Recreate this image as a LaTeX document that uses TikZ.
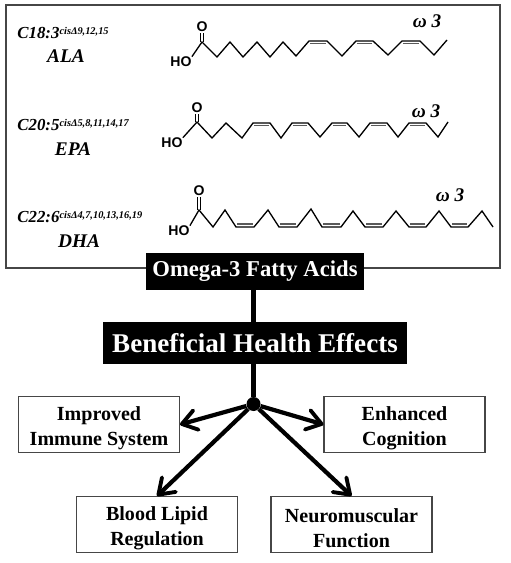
\documentclass[tikz,border=0pt]{standalone}
\usepackage{fontspec}
\setmainfont{Liberation Serif}
\setsansfont{Liberation Sans}
\usetikzlibrary{arrows.meta}
\definecolor{framegray}{RGB}{70,70,70}
\definecolor{bondgray}{RGB}{90,90,90}
\newcommand{\fattylabel}[2]{#1\raisebox{0.6ex}{\fontsize{5.9}{7}\selectfont cisΔ#2}}
\newcommand{\effectlines}[2]{\rule{0pt}{12pt}#1\\#2}

\begin{document}
\begin{tikzpicture}[
  x=0.02cm, y=-0.02cm,
  titlebox/.style={fill=black, text=white, font=\bfseries, inner sep=0pt, align=center},
  effect/.style={draw=framegray, line width=0.6pt, fill=white, minimum width=3.22cm, minimum height=1.12cm, inner sep=0pt, font=\fontsize{11.4}{14.2}\selectfont\bfseries, align=center},
  arr/.style={-{Straight Barb[length=2.9mm, width=4mm, line width=2.2pt, round]}, line width=2.4pt},
  stem/.style={line width=2.7pt},
  chain/.style={line width=0.75pt, line join=miter},
  bond/.style={line width=0.75pt, bondgray},
  fatty/.style={font=\fontsize{9.6}{13}\selectfont\bfseries\itshape, anchor=west, inner sep=0pt},
  acid/.style={font=\fontsize{11}{14}\selectfont\bfseries\itshape, inner sep=0pt},
  omega/.style={font=\fontsize{11}{13}\selectfont\bfseries\itshape, inner sep=0pt},
  atom/.style={font=\fontsize{8}{9}\selectfont\sffamily\bfseries, inner sep=0pt},
]
\useasboundingbox (0,0) rectangle (510,563);

% frame with the three acids
\draw[framegray, line width=0.7pt] (6,5) rectangle (500,268);

\node[fatty] (c18) at (17,33) {\fattylabel{C18:3}{9,12,15}};
\node[acid] (ala) at (66,56) {ALA};
\node[omega] (w18) at (427,21) {ω 3};
\node[atom] (ho18) at (181,62) {HO};
\node[atom] (o18) at (202,27) {O};
\draw[chain] (ho18.north east) -- (202,42) -- (217,57) -- (230,42) -- (243,57) -- (257,42) -- (270,57) -- (283,42) -- (296,56) -- (309,41) -- (327,41) -- (342,56) -- (356,41) -- (373,41) -- (388,55) -- (402,41) -- (420,41) -- (434,55) -- (447,40);
\draw[chain] (200.5,42) -- (200.5,33);
\draw[chain] (203.5,42) -- (203.5,33);
\foreach \xa/\xb in {309/327, 356/373, 402/420}
  \draw[bond] (\xa+1,43.5) -- (\xb-1,43.5);

\node[fatty] (c20) at (17,125) {\fattylabel{C20:5}{5,8,11,14,17}};
\node[acid] (epa) at (73,149) {EPA};
\node[omega] (w20) at (426,111) {ω 3};
\node[atom] (ho20) at (172,143) {HO};
\node[atom] (o20) at (197,108) {O};
\draw[chain] (ho20.north east) -- (197,122) -- (212,138) -- (226,123) -- (242,138) -- (253,123) -- (270,123) -- (281,138) -- (292,123) -- (308,123) -- (320,137) -- (332,123) -- (347,123) -- (359,137) -- (370,123) -- (387,123) -- (398,137) -- (409,123) -- (426,123) -- (438,137) -- (448,122);
\draw[chain] (195.5,122) -- (195.5,114);
\draw[chain] (198.5,122) -- (198.5,114);
\foreach \xa/\xb in {253/270, 292/308, 332/347, 370/387, 409/426}
  \draw[bond] (\xa+1,125.5) -- (\xb-1,125.5);

\node[fatty] (c22) at (17,217) {\fattylabel{C22:6}{4,7,10,13,16,19}};
\node[acid] (dha) at (79,241) {DHA};
\node[omega] (w22) at (450,195) {ω 3};
\node[atom] (ho22) at (179,231) {HO};
\node[atom] (o22) at (199,191) {O};
\draw[chain] (ho22.north east) -- (199,210) -- (213,227) -- (225,210) -- (236,227) -- (254,227) -- (268,210) -- (279,227) -- (297,227) -- (311,209) -- (322,227) -- (341,227) -- (353,211) -- (365,227) -- (383,227) -- (396,211) -- (409,227) -- (426,227) -- (439,211) -- (451,227) -- (468,227) -- (482,211) -- (493,227);
\draw[chain] (197.5,210) -- (197.5,197);
\draw[chain] (200.5,210) -- (200.5,197);
\foreach \xa/\xb in {236/254, 279/297, 322/341, 365/383, 409/426, 451/468}
  \draw[bond] (\xa+1,224) -- (\xb-1,224);

% titles
\node[titlebox, minimum width=4.36cm, minimum height=0.74cm, font=\fontsize{12.9}{15}\selectfont\bfseries] (omegabox) at (255,271.5) {Omega-3 Fatty Acids};
\node[titlebox, minimum width=6.08cm, minimum height=0.84cm, font=\fontsize{15.4}{18}\selectfont\bfseries] (health) at (255,343) {Beneficial Health Effects};
\node[circle, fill=black, minimum size=0.28cm, inner sep=0pt] (hub) at (253.5,404) {};

% effects
\node[effect] (immune) at (99,424.5) {\effectlines{Improved}{Immune System}};
\node[effect] (cognition) at (404.5,424.5) {\effectlines{Enhanced}{Cognition}};
\node[effect] (lipid) at (157,524.5) {\effectlines{Blood Lipid}{Regulation}};
\node[effect] (neuro) at (351.5,524.5) {\effectlines{Neuromuscular}{Function}};

\draw[stem] (omegabox.south -| hub) -- (health.north -| hub);
\draw[stem] (health.south -| hub) -- (hub);
\draw[arr] (hub) -- (immune.east);
\draw[arr] (hub) -- (cognition.west);
\draw[arr] (hub) -- (lipid.north);
\draw[arr] (hub) -- (neuro.north);
\end{tikzpicture}
\end{document}
